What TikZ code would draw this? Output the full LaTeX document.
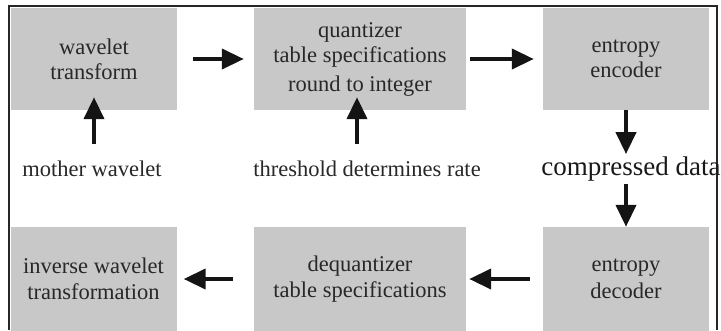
\documentclass[tikz,border=0pt]{standalone}
\usepackage{fontspec}
\setmainfont{Liberation Serif}
\usetikzlibrary{arrows.meta}
\definecolor{boxgray}{RGB}{200,200,200}
\definecolor{txt}{RGB}{40,40,40}
\tikzset{
  blk/.style={fill=boxgray, draw=none, minimum height=102pt, inner sep=0pt,
    align=center, text=txt, font=\fontsize{22.5}{25}\selectfont},
  lbl/.style={inner sep=0pt, text=txt, font=\fontsize{22.5}{25}\selectfont},
  arr/.style={draw=black!92, line width=4pt, -{Triangle[length=22pt,width=20pt]}},
  frame/.style={draw=black!85, line width=1.5pt}
}
\begin{document}
\begin{tikzpicture}[x=1pt,y=-1pt]
\useasboundingbox (0,0) rectangle (721,330);
% boxes
\node[blk, minimum width=166pt] (wt) at (94,59) {wavelet\\transform};
\node[blk, minimum width=212pt] (q) at (360,59) {quantizer\\table specifications\\[4pt]round to integer};
\node[blk, minimum width=166pt] (ee) at (626,59) {entropy\\encoder};
\node[blk, minimum width=166pt, minimum height=104pt, font=\fontsize{22.5}{26.5}\selectfont] (iw) at (93.5,279) {inverse wavelet\\transformation};
\node[blk, minimum width=212pt, minimum height=104pt, font=\fontsize{22.5}{26.5}\selectfont] (dq) at (360,279) {dequantizer\\table specifications};
\node[blk, minimum width=166pt, minimum height=104pt, font=\fontsize{22.5}{26.5}\selectfont] (ed) at (626,279) {entropy\\decoder};
% frame
\draw[frame] (9,330) -- (9,6) -- (717,6) -- (717,330);
% labels
\node[lbl, anchor=base] (mw) at (92,176) {mother wavelet};
\node[lbl, anchor=base] (th) at (367,176) {threshold determines rate};
\node[lbl, anchor=base, font=\fontsize{27}{30}\selectfont, text=black!90] (cd) at (631,175) {compressed data};
% arrows
\draw[arr, shorten <=16pt, shorten >=10pt] (wt.east) -- (q.west);
\draw[arr, shorten <=4pt, shorten >=9pt] (q.east) -- (ee.west);
\draw[arr, shorten <=16pt, shorten >=-13pt] (mw.north -| wt.south) -- (wt.south);
\draw[arr, shorten <=16pt, shorten >=-13pt] ([xshift=-3pt]th.north -| q.south) -- ([xshift=-3pt]q.south);
\draw[arr, shorten >=2pt] (ee.south) -- (ee.south |- cd.north);
\draw[arr, shorten <=3pt] (ed.north |- cd.south) -- (ed.north);
\draw[arr, shorten <=13pt, shorten >=3pt] (ed.west) -- (dq.east);
\draw[arr, shorten <=21pt, shorten >=7pt] (dq.west) -- (iw.east);
\end{tikzpicture}
\end{document}
